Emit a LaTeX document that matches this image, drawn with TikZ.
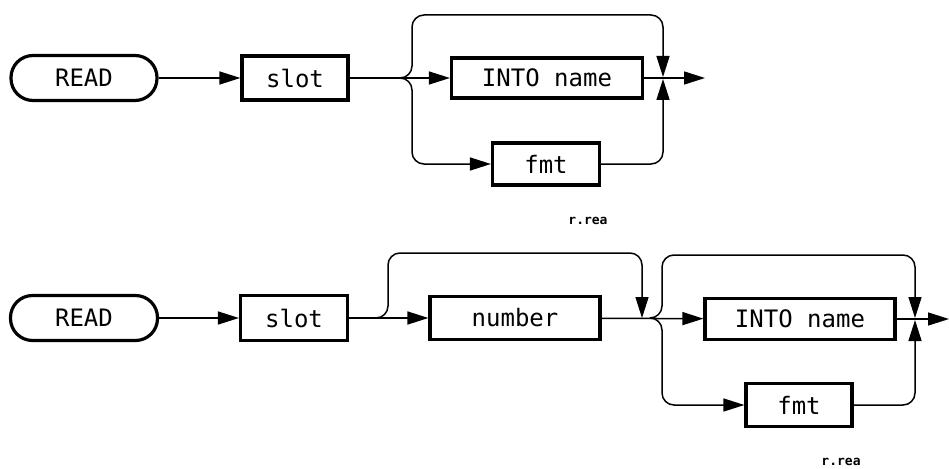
\documentclass[tikz,border=0pt]{standalone}
\usepackage{fontspec}
\newfontfamily\plotfont{DejaVu Sans Mono}
\usetikzlibrary{arrows.meta}
\begin{document}
\begin{tikzpicture}[x=1pt,y=1pt,
  conn/.style={line width=1.5pt},
  arr/.style={conn,-{Triangle[length=21pt,width=13pt]}},
  box/.style={draw,line width=3.2pt,inner sep=0pt,font=\plotfont\fontsize{24}{26}\selectfont},
  term/.style={box,rounded corners=22pt},
  tag/.style={font=\plotfont\bfseries\fontsize{13}{14}\selectfont},
  rc/.style={rounded corners=12pt}]
\useasboundingbox (0,0) rectangle (949,-468);
% ---- top diagram ----
\node[term,minimum width=146pt,minimum height=45pt] (r1) at (84,-78) {READ};
\node[box,minimum width=106pt,minimum height=44pt] (s1) at (295,-78) {slot};
\node[box,minimum width=191pt,minimum height=40pt] (i1) at (547,-78) {INTO name};
\node[box,minimum width=107pt,minimum height=42pt] (f1) at (546,-164) {fmt};
\coordinate (b1) at (400,-78);
\coordinate (j1) at (663,-78);
\coordinate (o1) at (705,-78);
\draw[arr] (r1) -- (s1);
\draw[arr] (s1) -- (i1);
\draw[arr,rc] (b1) -- ++(12,0) -- ++(0,63) -| ([yshift=1]j1);
\draw[arr,rc] (b1) -- ++(12,0) |- (f1.west);
\draw[arr,rc] (f1.east) -| ([yshift=-1]j1);
\draw[arr] (i1.east) -- (o1);
\node[tag] (l1) at (588,-221) {r.rea};
% ---- bottom diagram ----
\node[term,minimum width=147pt,minimum height=45pt] (r2) at (84,-318) {READ};
\node[box,minimum width=107pt,minimum height=45pt] (s2) at (294,-318) {slot};
\node[box,minimum width=170pt,minimum height=43pt] (n2) at (515,-318) {number};
\node[box,minimum width=190pt,minimum height=41pt] (i2) at (800,-319) {INTO name};
\node[box,minimum width=106pt,minimum height=43pt] (f2) at (799,-405) {fmt};
\coordinate (b2) at (376,-318);
\coordinate (m2) at (642,-318);
\coordinate (b3) at (651,-318);
\coordinate (j2) at (915,-319);
\coordinate (o2) at (949,-319);
\draw[arr] (r2) -- (s2);
\draw[arr] (s2) -- (n2);
\draw[arr,rc] (b2) -- ++(12,0) -- ++(0,65) -| ([yshift=0]m2);
\draw[arr] (n2) -- (i2);
\draw[arr,rc] (b3) -- ++(11,0) -- ++(0,63) -| ([yshift=1]j2);
\draw[arr,rc] (b3) -- ++(11,0) |- (f2.west);
\draw[arr,rc] (f2.east) -| ([yshift=-1]j2);
\draw[arr] (i2.east) -- (o2);
\node[tag] (l2) at (841,-462) {r.rea};
\end{tikzpicture}
\end{document}
